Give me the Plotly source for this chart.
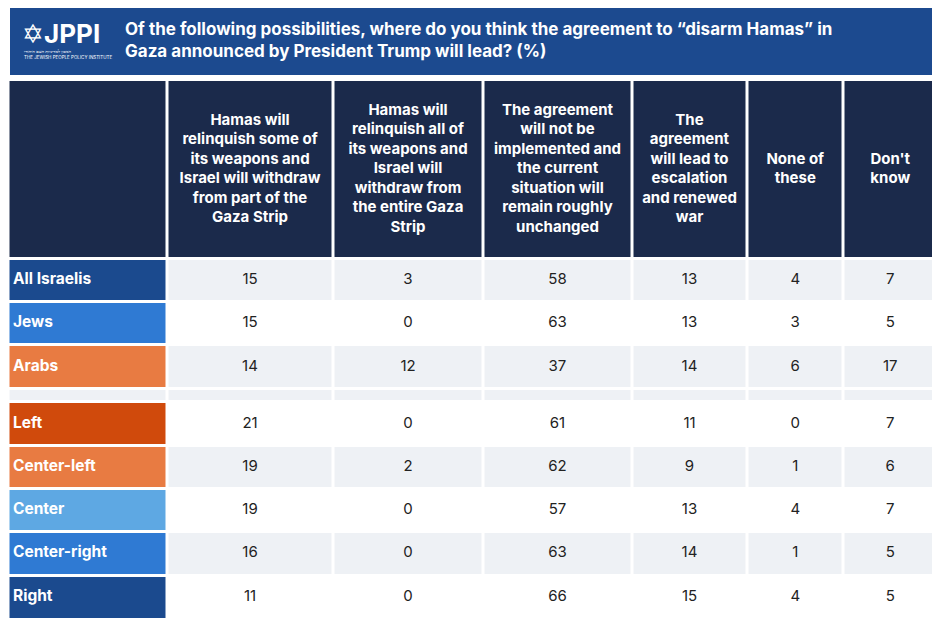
import plotly.graph_objects as go

columns = [
    "Hamas will<br>relinquish some of<br>its weapons and<br>Israel will withdraw<br>from part of the<br>Gaza Strip",
    "Hamas will<br>relinquish all of<br>its weapons and<br>Israel will<br>withdraw from<br>the entire Gaza<br>Strip",
    "The agreement<br>will not be<br>implemented and<br>the current<br>situation will<br>remain roughly<br>unchanged",
    "The<br>agreement<br>will lead to<br>escalation<br>and renewed<br>war",
    "None of<br>these",
    "Don't<br>know",
]

groups = ["All Israelis", "Jews", "Arabs", "", "Left", "Center-left", "Center", "Center-right", "Right"]
values = [
    [15, 3, 58, 13, 4, 7],
    [15, 0, 63, 13, 3, 5],
    [14, 12, 37, 14, 6, 17],
    None,
    [21, 0, 61, 11, 0, 7],
    [19, 2, 62, 9, 1, 6],
    [19, 0, 57, 13, 4, 7],
    [16, 0, 63, 14, 1, 5],
    [11, 0, 66, 15, 4, 5],
]
label_colors = ["#1b4a8e", "#2f7ad3", "#e87b42", "#eef1f5",
                "#d04a0c", "#e87b42", "#5ea8e3", "#2f7ad3", "#1b4a8e"]
row_fills = ["#eef1f5", "#ffffff", "#eef1f5", "#eef1f5",
             "#ffffff", "#eef1f5", "#ffffff", "#eef1f5", "#ffffff"]
HEADER = "#1b2a4b"
FONT = "Inter"

# screen-pixel layout (page has an 8px body margin)
x_edges = [8.5, 167, 333, 483, 632, 747, 843.5, 937]
y_edges = [80, 259, 302, 345, 388.5, 402, 445.5, 488.5, 531.5, 575.5, 619.5]
W, H, OFF = 940, 625, 8

# cell colours
grid = [[HEADER] * 7] + [[lc] + [rf] * 6 for lc, rf in zip(label_colors, row_fills)]
palette = sorted({c for row in grid for c in row})
idx = {c: i for i, c in enumerate(palette)}
z = [[idx[c] for c in row] for row in grid]
n = len(palette)
cscale = [[i / (n - 1), c] for i, c in enumerate(palette)]

fig = go.Figure()
fig.add_trace(go.Heatmap(x=x_edges, y=y_edges, z=z, colorscale=cscale, zmin=0, zmax=n - 1,
                         xgap=3, ygap=3, showscale=False, hoverinfo="skip"))

xc = [(a + b) / 2 for a, b in zip(x_edges[:-1], x_edges[1:])]
yc = [(a + b) / 2 for a, b in zip(y_edges[:-1], y_edges[1:])]

fig.add_trace(go.Scatter(x=xc[1:], y=[yc[0]] * 6, text=["<b>%s</b>" % c for c in columns],
                         mode="text", hoverinfo="skip",
                         textfont=dict(family=FONT, size=15, color="white")))

nx, ny, nt = [], [], []
for r, row in enumerate(values):
    if row is None:
        continue
    for c, v in enumerate(row):
        nx.append(xc[c + 1]); ny.append(yc[r + 1]); nt.append(str(v))
fig.add_trace(go.Scatter(x=nx, y=ny, text=nt, mode="text", hoverinfo="skip",
                         textfont=dict(family=FONT, size=15, color="#222222")))

fig.add_trace(go.Scatter(x=[13] * len(groups), y=yc[1:], text=["<b>%s</b>" % g for g in groups],
                         mode="text", textposition="middle right", hoverinfo="skip",
                         textfont=dict(family=FONT, size=15.5, color="white")))

fig.add_shape(type="rect", x0=10, x1=935, y0=4, y1=75, fillcolor="#1c4a8f",
              line_width=0, layer="below")
fig.add_annotation(x=123, y=40, xanchor="left", yanchor="middle", showarrow=False, align="left",
                   text="<b>Of the following possibilities, where do you think the agreement to “disarm Hamas” in<br>Gaza announced by President Trump will lead? (%)</b>",
                   font=dict(family=FONT, size=17, color="white"))
fig.add_annotation(x=20, y=33, xanchor="left", yanchor="middle", showarrow=False,
                   text="✡<b>JPPI</b>", font=dict(family=FONT, size=26, color="white"))
fig.add_annotation(x=22, y=54, xanchor="left", yanchor="middle", showarrow=False, align="left",
                   text="המכון למדיניות העם היהודי<br>THE JEWISH PEOPLE POLICY INSTITUTE",
                   font=dict(family=FONT, size=4.5, color="white"))

fig.update_xaxes(range=[OFF, W + OFF], visible=False, fixedrange=True)
fig.update_yaxes(range=[H + OFF, OFF], visible=False, fixedrange=True)
fig.update_layout(width=W, height=H, margin=dict(l=0, r=0, t=0, b=0),
                  paper_bgcolor="white", plot_bgcolor="white", showlegend=False)
fig.write_html("out.html")
